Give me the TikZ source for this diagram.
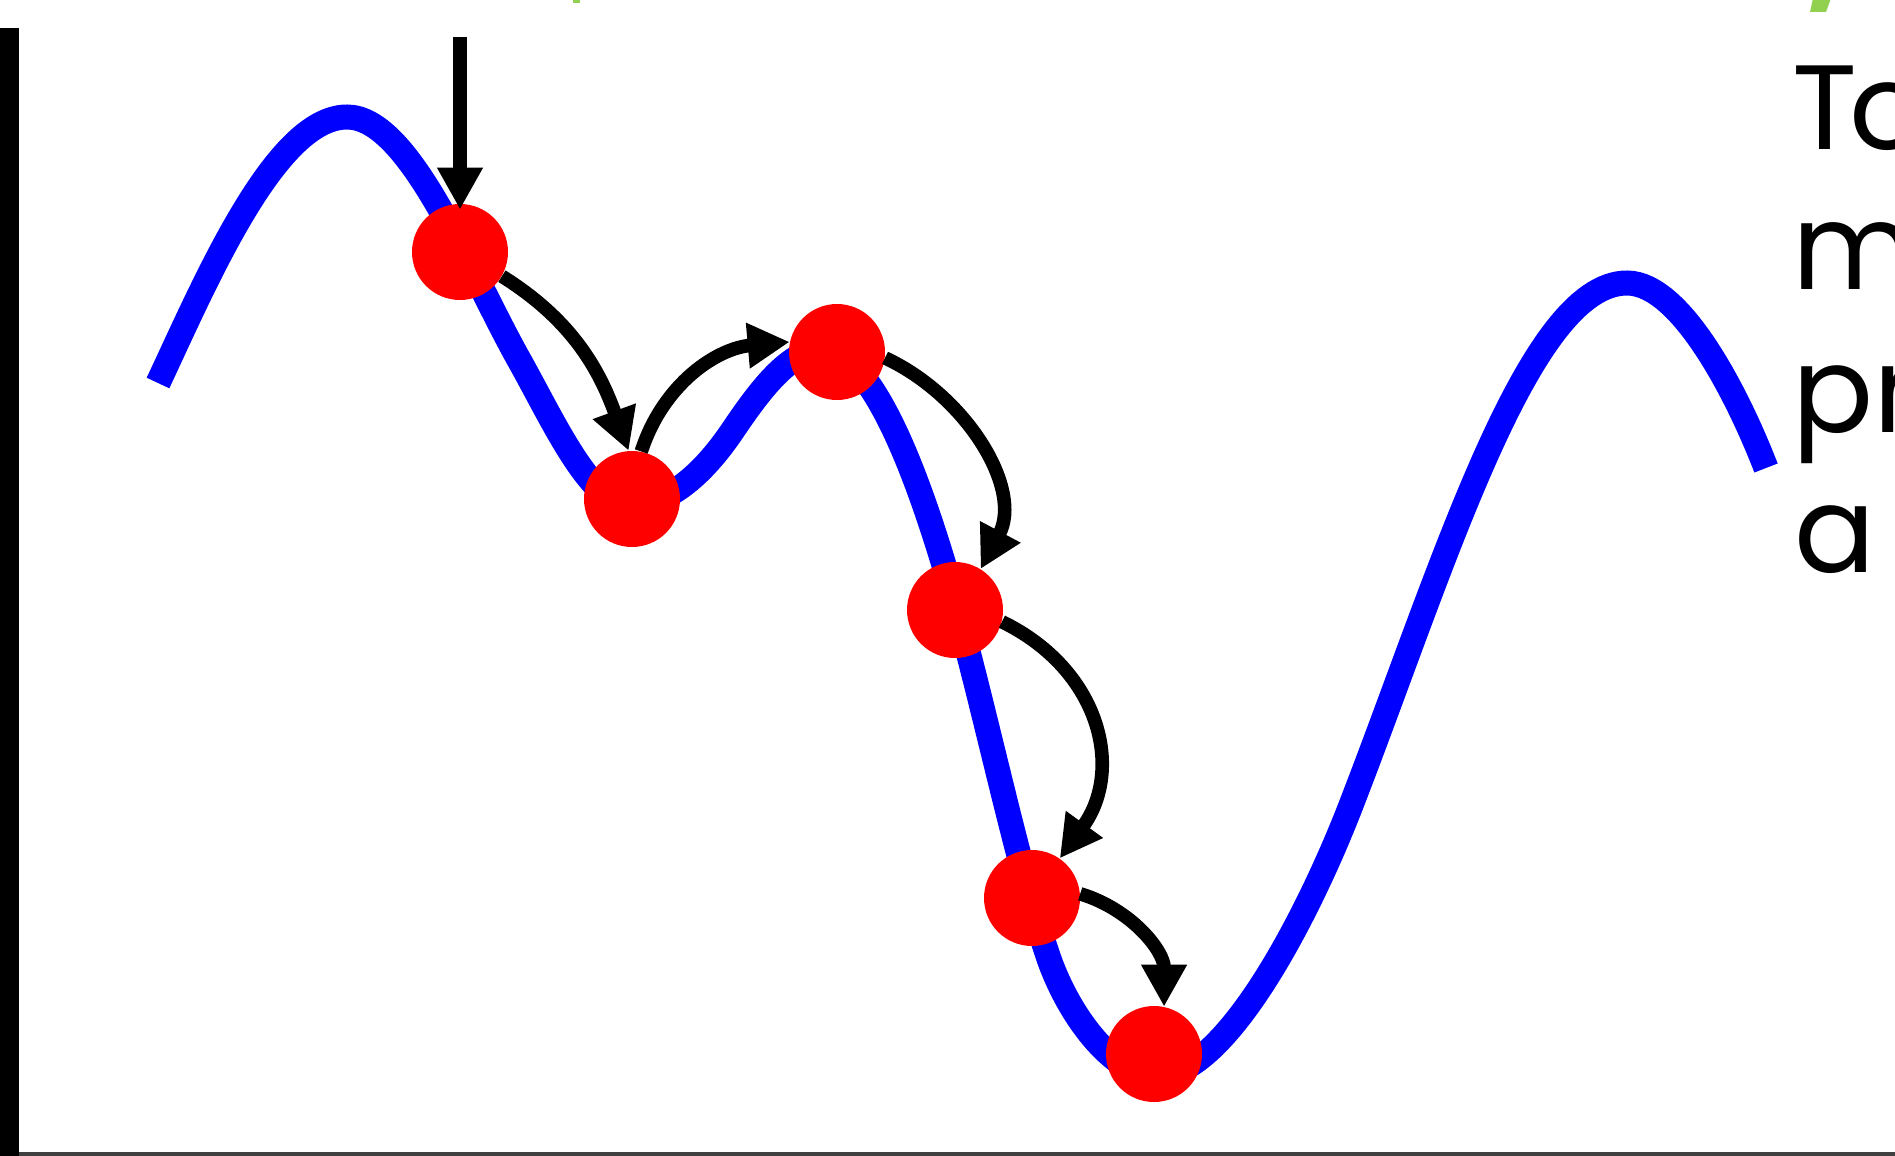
\documentclass[tikz,border=0pt]{standalone}
\usepackage{fontspec}
\setmainfont{Poppins}
\usetikzlibrary{arrows.meta}
\definecolor{slidegreen}{RGB}{146,208,80}
\tikzset{
  ball/.style={circle, fill=red, minimum size=48pt, inner sep=0pt},
  jump/.style={draw=black, line width=6.8pt, -{Triangle[width=21.5pt,length=21pt]}},
  land/.style={draw=blue, line width=12.5pt},
  lbl/.style={font=\fontsize{60}{70}\selectfont, anchor=base west, inner sep=0pt, text=black}
}
\begin{document}
\begin{tikzpicture}[x=0.5pt,y=-0.5pt]
\useasboundingbox (0,0) rectangle (1895,1156);
\begin{scope}
\clip (0,0) rectangle (1895,1156);
\fill[white] (0,0) rectangle (1895,1156);
% frame pieces
\fill[black] (0,28) rectangle (19,1156);
\fill[black!75] (19,1152) rectangle (1895,1156);
% green fragments of the cut-off title
\fill[slidegreen] (1813,-2) -- (1831,-2) -- (1826,12) -- (1810,12) -- cycle;
\fill[slidegreen] (573,-2) rectangle (580,3);
% landscape
\draw[land] (158,383)
  .. controls (205,283) and (275,117) .. (347,117)
  .. controls (409,117) and (467,266) .. (518,358)
  .. controls (552,418) and (590,505) .. (630,505)
  .. controls (667,505) and (702,476) .. (733,430)
  .. controls (760,390) and (790,350) .. (822,350)
  .. controls (885,350) and (942,553) .. (965,640)
  .. controls (992,743) and (1021,875) .. (1047,953)
  .. controls (1067,1014) and (1113,1076) .. (1157,1076)
  .. controls (1227,1076) and (1311,910) .. (1353,800)
  .. controls (1443,567) and (1528,283) .. (1627,283)
  .. controls (1683,283) and (1741,403) .. (1766,468);
% balls
\node[ball] (b1) at (460,252) {};
\node[ball] (b2) at (632,499) {};
\node[ball] (b3) at (837,352) {};
\node[ball] (b4) at (955,610) {};
\node[ball] (b5) at (1032,898) {};
\node[ball] (b6) at (1154,1054) {};
% jumps
\coordinate (drop) at (460,37);
\draw[jump, shorten >=-3pt] (drop) -- (b1.north);
\draw[jump] (b1.-30) to[out=-32, in=110] (b2.94);
\draw[jump] (b2.79) to[out=72, in=185] (b3.168);
\draw[jump] (b3.-7) to[out=-25, in=62] (b4.58);
\draw[jump] (b4.-14) to[out=-26, in=54, looseness=1.15] (b5.55);
\draw[jump] (b5.5) to[out=-17, in=90] (b6.78);
% cut-off text on the right
\node[lbl] (t1) at (1792,149) {T\kern-4pt o};
\node[lbl] (t2) at (1792,289) {m};
\node[lbl] (t3) at (1792,432) {pr};
\node[lbl] (t4) at (1794,572) {a};
\end{scope}
\end{tikzpicture}
\end{document}
